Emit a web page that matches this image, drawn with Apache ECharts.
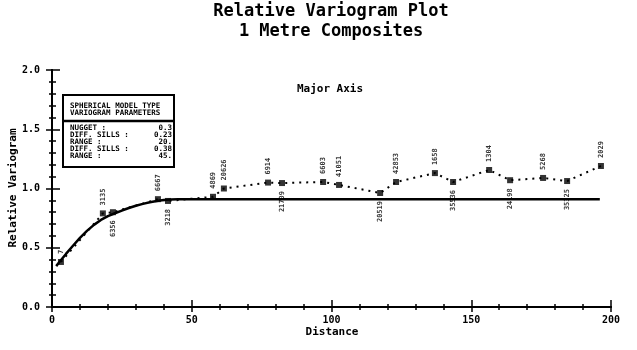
<!DOCTYPE html>
<html>
<head>
<meta charset="utf-8">
<script src="https://cdn.jsdelivr.net/npm/echarts@6/dist/echarts.min.js"></script>
<style>
  html, body { margin: 0; padding: 0; background: #fff; }
  #chart { width: 637px; height: 350px; }
</style>
</head>
<body>
<div id="chart"></div>
<script>
// Experimental relative variogram (major axis): lag distance, gamma, number of pairs
const lagDist = [3.2, 18.2, 21.8, 37.9, 41.5, 57.6, 61.5, 77.3, 82.3, 97.0, 102.7, 117.4, 123.1, 137.0, 143.5, 156.4, 163.9, 175.7, 184.3, 196.4];
const lagGamma = [0.38, 0.79, 0.80, 0.91, 0.895, 0.93, 1.00, 1.05, 1.046, 1.055, 1.03, 0.962, 1.055, 1.13, 1.055, 1.156, 1.07, 1.089, 1.063, 1.19];
const pairCounts = ['7', '3135', '6356', '6667', '3218', '4869', '20626', '6914', '21709', '6603', '41051', '20519', '42853', '1658', '35536', '1304', '24198', '5268', '35325', '2029'];

// Fitted spherical model curve
const modelDist = [1.5, 2.5, 5, 7.5, 10, 12.5, 15, 17.5, 20, 22.5, 25, 27.5, 30, 32.5, 35, 37.5, 40, 42.5, 45, 196];
const modelGamma = [0.345, 0.375, 0.448, 0.517, 0.583, 0.642, 0.693, 0.735, 0.767, 0.791, 0.814, 0.835, 0.854, 0.870, 0.884, 0.895, 0.903, 0.908, 0.91, 0.91];

// Model parameter table
const paramNames = ['NUGGET :', 'DIFF. SILLS :', 'RANGE :', 'DIFF. SILLS :', 'RANGE :'];
const paramValues = ['0.3', '0.23', '20.', '0.38', '45.'];

// Axis ticks
const xTicks = [0, 50, 100, 150, 200];
const yTicks = [0.0, 0.5, 1.0, 1.5, 2.0];

const MONO = "'DejaVu Sans Mono', monospace";
const belowIdx = new Set([2, 4, 8, 11, 14, 16, 18]);

const expPoints = lagDist.map((d, i) => [d, lagGamma[i]]);
const expData = expPoints.map((v, i) => {
  const below = belowIdx.has(i);
  return {
    value: v,
    label: {
      position: below ? 'bottom' : 'top',
      align: below ? 'right' : 'left',
      verticalAlign: 'middle',
      distance: 5
    }
  };
});
const modelData = modelDist.map((d, i) => [d, modelGamma[i]]);

const chart = echarts.init(document.getElementById('chart'), null, { renderer: 'canvas' });

const axisCommon = {
  axisLine: { show: true, lineStyle: { color: '#000', width: 2 } },
  splitLine: { show: false },
  minorSplitLine: { show: false }
};

const boxX = 63, boxY = 95, boxW = 111, boxH = 72;
const graphics = [
  { type: 'text', x: 331, y: 12, style: { text: 'Relative Variogram Plot', font: 'bold 17px ' + MONO, fill: '#000', textAlign: 'center', textVerticalAlign: 'middle' } },
  { type: 'text', x: 331, y: 32, style: { text: '1 Metre Composites', font: 'bold 17px ' + MONO, fill: '#000', textAlign: 'center', textVerticalAlign: 'middle' } },
  { type: 'text', x: 330, y: 89, style: { text: 'Major Axis', font: 'bold 11px ' + MONO, fill: '#000', textAlign: 'center', textVerticalAlign: 'middle' } },
  { type: 'text', x: 332, y: 332, style: { text: 'Distance', font: 'bold 11px ' + MONO, fill: '#000', textAlign: 'center', textVerticalAlign: 'middle' } },
  { type: 'text', x: 13, y: 188, rotation: Math.PI / 2, style: { text: 'Relative Variogram', font: 'bold 11px ' + MONO, fill: '#000', textAlign: 'center', textVerticalAlign: 'middle' } },
  { type: 'rect', shape: { x: boxX, y: boxY, width: boxW, height: boxH }, style: { fill: '#fff', stroke: '#000', lineWidth: 2 }, z: 10 },
  { type: 'line', shape: { x1: boxX, y1: 121, x2: boxX + boxW, y2: 121 }, style: { stroke: '#000', lineWidth: 2.5 }, z: 11 },
  { type: 'text', x: 70, y: 106, z: 11, style: { text: 'SPHERICAL MODEL TYPE', font: 'bold 7.5px ' + MONO, fill: '#000', textVerticalAlign: 'middle' } },
  { type: 'text', x: 70, y: 113, z: 11, style: { text: 'VARIOGRAM PARAMETERS', font: 'bold 7.5px ' + MONO, fill: '#000', textVerticalAlign: 'middle' } }
];
const rowY = [128, 135, 142, 149, 156];
paramNames.forEach((n, i) => {
  graphics.push({ type: 'text', x: 70, y: rowY[i], z: 11, style: { text: n, font: 'bold 7.5px ' + MONO, fill: '#000', textVerticalAlign: 'middle' } });
  graphics.push({ type: 'text', x: 172, y: rowY[i], z: 11, style: { text: paramValues[i], font: 'bold 7.5px ' + MONO, fill: '#000', textAlign: 'right', textVerticalAlign: 'middle' } });
});

chart.setOption({
  animation: false,
  backgroundColor: '#fff',
  grid: { left: 52, right: 26, top: 70, bottom: 43 },
  xAxis: [
    Object.assign({}, axisCommon, {
      type: 'value', min: xTicks[0], max: xTicks[xTicks.length - 1], interval: 50,
      axisTick: { show: true, inside: true, length: 7, lineStyle: { color: '#000', width: 1.5 } },
      minorTick: { show: true, splitNumber: 5, length: 3, lineStyle: { color: '#000', width: 1.5 } },
      axisLabel: { color: '#000', fontFamily: MONO, fontWeight: 'bold', fontSize: 10, margin: 8 }
    }),
    Object.assign({}, axisCommon, {
      type: 'value', position: 'top', min: xTicks[0], max: xTicks[xTicks.length - 1], interval: 50,
      axisTick: { show: true, inside: true, length: 5, lineStyle: { color: '#000', width: 1.5 } },
      minorTick: { show: true, splitNumber: 5, length: 3, lineStyle: { color: '#000', width: 1.5 } },
      axisLabel: { show: false }
    })
  ],
  yAxis: [
    Object.assign({}, axisCommon, {
      type: 'value', min: yTicks[0], max: yTicks[yTicks.length - 1], interval: 0.5,
      axisTick: { show: true, inside: true, length: 8, lineStyle: { color: '#000', width: 1.5 } },
      minorTick: { show: true, splitNumber: 5, length: 4, lineStyle: { color: '#000', width: 1.5 } },
      axisLabel: { color: '#000', fontFamily: MONO, fontWeight: 'bold', fontSize: 10, margin: 12,
        formatter: v => v.toFixed(1) }
    }),
    Object.assign({}, axisCommon, {
      type: 'value', position: 'right', min: yTicks[0], max: yTicks[yTicks.length - 1], interval: 0.5,
      axisTick: { show: true, inside: true, length: 6, lineStyle: { color: '#000', width: 1.5 } },
      minorTick: { show: true, splitNumber: 5, length: 3, lineStyle: { color: '#000', width: 1.5 } },
      axisLabel: { show: false }
    })
  ],
  graphic: graphics,
  series: [
    {
      // dotted connector through the experimental points
      name: 'Experimental line',
      type: 'line',
      data: expPoints,
      showSymbol: false,
      lineStyle: { color: '#000', width: 2, type: [2, 5] },
      z: 1
    },
    {
      name: 'Spherical model',
      type: 'line',
      data: modelData,
      showSymbol: false,
      lineStyle: { color: '#000', width: 2.5 },
      z: 2
    },
    {
      name: 'Experimental',
      type: 'scatter',
      data: expData,
      symbol: 'rect',
      symbolSize: 6,
      itemStyle: { color: '#000' },
      label: {
        show: true,
        rotate: 90,
        fontFamily: MONO,
        fontWeight: 'bold',
        fontSize: 7,
        color: '#000',
        formatter: p => pairCounts[p.dataIndex]
      },
      z: 3
    }
  ]
});
</script>
</body>
</html>
